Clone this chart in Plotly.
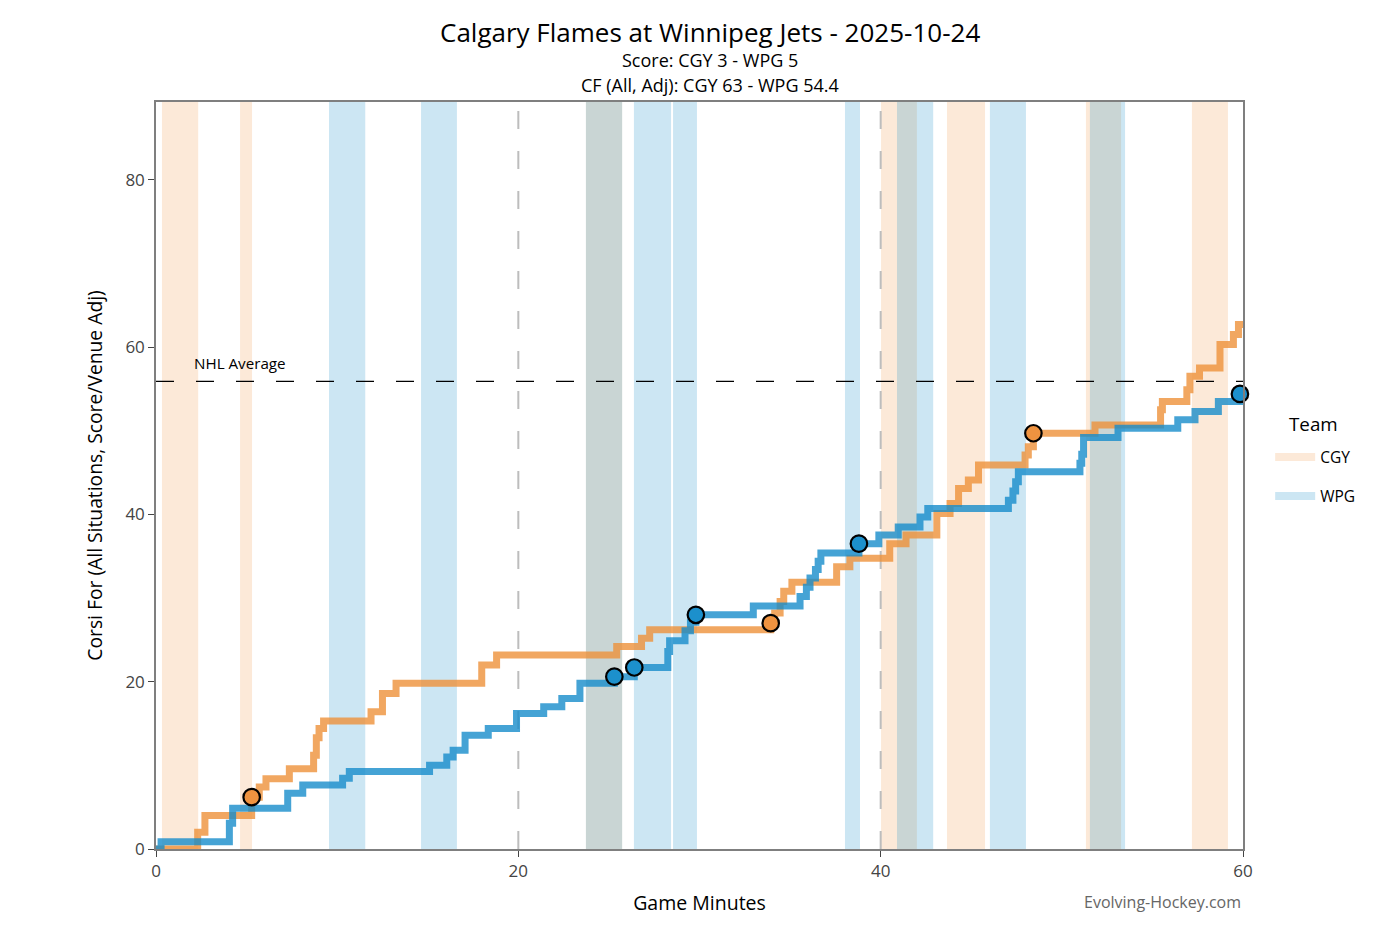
import plotly.graph_objects as go

# ---------------- data ----------------
teams = ["CGY", "WPG"]

cgy_t = [0, 2.3, 2.7, 5.28, 5.7, 6.07, 7.36, 8.7, 8.85, 9.0, 9.25, 11.87, 12.5, 13.25,
         17.98, 18.8, 25.43, 26.8, 27.25, 33.93, 34.15, 34.45, 34.65, 35.1, 37.57, 38.3,
         40.5, 41.4, 43.1, 43.83, 44.3, 44.84, 45.4, 47.97, 48.15, 48.43, 51.83, 55.45,
         55.55, 56.9, 57.07, 57.6, 58.73, 59.47, 59.75, 60]
cgy_cf = [0, 2.0, 4.0, 6.2, 7.4, 8.4, 9.6, 11.2, 13.3, 14.4, 15.3, 16.4, 18.6, 19.8,
          22.0, 23.2, 24.2, 25.2, 26.2, 27.0, 28.2, 29.6, 30.8, 31.9, 33.75, 34.75,
          36.5, 37.55, 40.1, 41.3, 43.1, 44.1, 45.9, 47.1, 48.1, 49.7, 50.7, 52.5,
          53.5, 54.9, 56.5, 57.5, 60.3, 61.5, 62.7, 62.7]

wpg_t = [0, 0.28, 4.05, 4.23, 7.27, 8.1, 10.3, 10.67, 15.1, 16.05, 16.4, 17.06, 18.34,
         19.9, 21.4, 22.4, 23.4, 25.3, 26.4, 28.25, 28.35, 29.2, 29.5, 29.8, 32.97,
         35.55, 35.9, 36.1, 36.4, 36.55, 36.7, 38.8, 39.9, 40.97, 42.17, 42.6, 47.05,
         47.3, 47.45, 47.6, 51.0, 51.1, 51.2, 53.1, 56.4, 57.35, 58.64, 59.83, 60]
wpg_cf = [0, 0.87, 3.07, 4.86, 6.65, 7.65, 8.45, 9.25, 10.0, 11.0, 11.8, 13.6, 14.4,
          16.2, 17.0, 18.0, 19.8, 20.6, 21.7, 23.6, 24.9, 26.1, 27.1, 28.0, 29.06,
          30.2, 31.3, 32.4, 33.4, 34.4, 35.4, 36.5, 37.55, 38.5, 39.7, 40.7, 41.7,
          42.8, 43.9, 45.1, 46.1, 47.2, 49.2, 50.3, 51.3, 52.3, 53.5, 54.4, 54.4]

cgy_goal_t = [5.28, 33.93, 48.43]
cgy_goal_cf = [6.2, 27.0, 49.7]
wpg_goal_t = [25.3, 26.4, 29.8, 38.8, 59.83]
wpg_goal_cf = [20.6, 21.7, 28.0, 36.5, 54.4]

cgy_pp_start = [0.33, 4.64, 23.73, 40.02, 43.66, 51.33, 57.18]
cgy_pp_end = [2.33, 5.30, 25.73, 42.0, 45.76, 53.27, 59.17]
wpg_pp_start = [9.55, 14.63, 23.73, 26.38, 28.54, 38.03, 40.9, 46.03, 51.55]
wpg_pp_end = [11.55, 16.61, 25.73, 28.43, 29.86, 38.86, 42.9, 48.02, 53.49]

period_breaks = [20, 40]
nhl_average = 55.9
x_ticks = [0, 20, 40, 60]
y_ticks = [0, 20, 40, 60, 80]

# ---------------- style ----------------
FONT = "Open Sans"
CGY_LINE = "rgba(238,145,58,0.8)"
WPG_LINE = "rgba(22,140,202,0.8)"
CGY_DOT = "#EF9340"
WPG_DOT = "#1C90CC"
CGY_SHADE = "rgba(240,146,60,0.2)"
WPG_SHADE = "rgba(22,140,202,0.22)"

fig = go.Figure()

shapes = []
for s, e in zip(cgy_pp_start, cgy_pp_end):
    shapes.append(dict(type="rect", xref="x", yref="paper", x0=s, x1=e, y0=0, y1=1,
                       fillcolor=CGY_SHADE, line_width=0, layer="below"))
for s, e in zip(wpg_pp_start, wpg_pp_end):
    shapes.append(dict(type="rect", xref="x", yref="paper", x0=s, x1=e, y0=0, y1=1,
                       fillcolor=WPG_SHADE, line_width=0, layer="below"))
for p in period_breaks:
    shapes.append(dict(type="line", xref="x", yref="paper", x0=p, x1=p, y0=0, y1=1,
                       line=dict(color="#BDBDBD", width=2, dash="18px,22px"), layer="below"))
shapes.append(dict(type="line", xref="paper", yref="y", x0=0, x1=1, y0=nhl_average,
                   y1=nhl_average, line=dict(color="black", width=1.3, dash="18px,22px"),
                   layer="above"))

# legend swatches
fig.add_trace(go.Scatter(x=[None], y=[None], mode="lines", name=teams[0],
                         line=dict(color=CGY_SHADE, width=8), legendgroup="a"))
fig.add_trace(go.Scatter(x=[None], y=[None], mode="lines", name=teams[1],
                         line=dict(color=WPG_SHADE, width=8), legendgroup="b"))

fig.add_trace(go.Scatter(x=cgy_t, y=cgy_cf, mode="lines", line_shape="hv",
                         line=dict(color=CGY_LINE, width=7), showlegend=False,
                         hoverinfo="skip"))
fig.add_trace(go.Scatter(x=wpg_t, y=wpg_cf, mode="lines", line_shape="hv",
                         line=dict(color=WPG_LINE, width=7), showlegend=False,
                         hoverinfo="skip"))
fig.add_trace(go.Scatter(x=cgy_goal_t, y=cgy_goal_cf, mode="markers",
                         marker=dict(color=CGY_DOT, size=16.5, line=dict(color="black", width=2.2)),
                         showlegend=False, cliponaxis=False))
fig.add_trace(go.Scatter(x=wpg_goal_t, y=wpg_goal_cf, mode="markers",
                         marker=dict(color=WPG_DOT, size=16.5, line=dict(color="black", width=2.2)),
                         showlegend=False, cliponaxis=False))

annotations = [
    dict(text="Calgary Flames at Winnipeg Jets - 2025-10-24", xref="paper", yref="paper",
         x=0.51, y=1.0, yshift=70, showarrow=False, font=dict(size=26, color="black"),
         xanchor="center", yanchor="middle"),
    dict(text="Score: CGY 3 - WPG 5", xref="paper", yref="paper",
         x=0.51, y=1.0, yshift=42, showarrow=False, font=dict(size=18, color="black"),
         xanchor="center", yanchor="middle"),
    dict(text="CF (All, Adj): CGY 63 - WPG 54.4", xref="paper", yref="paper",
         x=0.51, y=1.0, yshift=17, showarrow=False, font=dict(size=18, color="black"),
         xanchor="center", yanchor="middle"),
    dict(text="NHL Average", xref="x", yref="y", x=2.0, y=nhl_average, yshift=18,
         showarrow=False, font=dict(size=15.2, color="black"), xanchor="left",
         yanchor="middle"),
    dict(text="Evolving-Hockey.com", xref="paper", yref="paper", x=1.0, y=0, yshift=-53,
         showarrow=False, font=dict(size=16, color="#666666"), xanchor="right",
         yanchor="middle"),
    dict(text="Team", xref="paper", yref="paper", x=1.0653, y=0.569, showarrow=False,
         font=dict(size=18.8, color="black"), xanchor="center", yanchor="middle"),
]

fig.update_layout(
    width=1392, height=934,
    margin=dict(l=148, r=157, t=94, b=93),
    paper_bgcolor="white", plot_bgcolor="white",
    font=dict(family=FONT, color="#333333"),
    shapes=shapes, annotations=annotations,
    showlegend=True,
    legend=dict(x=1.025, y=0.547, xanchor="left", yanchor="top",
                font=dict(size=15.5, color="black"), tracegroupgap=16, itemwidth=40,
                bgcolor="rgba(0,0,0,0)"),
)
fig.update_xaxes(range=[0, 60], tickvals=x_ticks, showgrid=False, zeroline=False,
                 showline=True, mirror=True, linecolor="#7F7F7F", linewidth=1.5,
                 ticks="outside", ticklen=6, tickcolor="#444444",
                 tickfont=dict(size=17, color="#444444"),
                 title=dict(text="Game Minutes", font=dict(size=19.5, color="black"), standoff=15))
fig.update_yaxes(range=[0, 89.3], tickvals=y_ticks, showgrid=False, zeroline=False,
                 showline=True, mirror=True, linecolor="#7F7F7F", linewidth=1.5,
                 ticks="outside", ticklen=6, tickcolor="#444444",
                 tickfont=dict(size=17, color="#444444"),
                 title=dict(text="Corsi For (All Situations, Score/Venue Adj)",
                            font=dict(size=19.3, color="black"), standoff=18))

fig.write_html("out.html")
